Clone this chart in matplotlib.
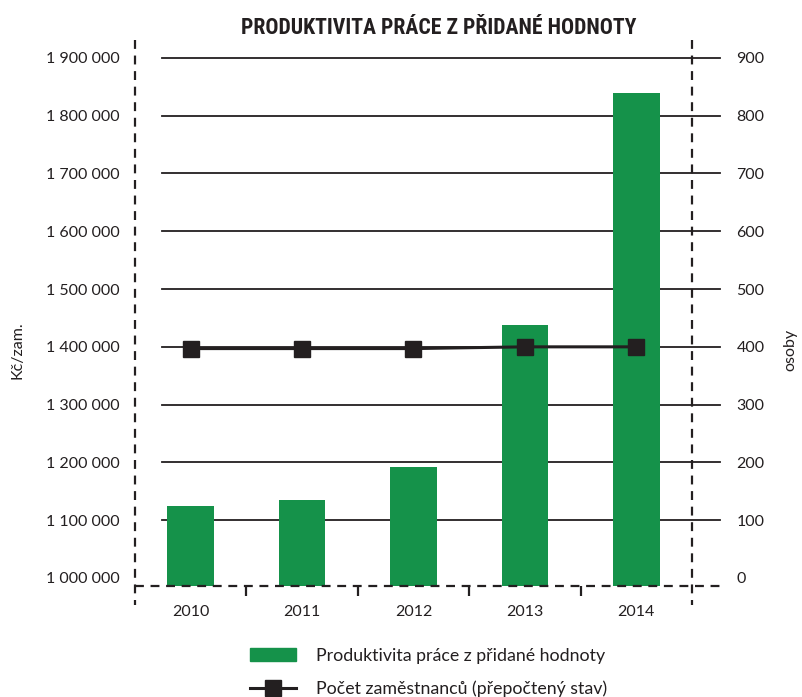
# Produktivita prace z pridane hodnoty - combo chart
import matplotlib.pyplot as plt
from matplotlib.lines import Line2D
from matplotlib.patches import Patch

plt.rcParams['font.family'] = ['Lato', 'DejaVu Sans']

years = ['2010', '2011', '2012', '2013', '2014']
produktivita = [1124500, 1135000, 1192000, 1438000, 1839000]
zamestnanci = [397, 397, 397, 400, 400]

left_ticks = [1000000, 1100000, 1200000, 1300000, 1400000,
              1500000, 1600000, 1700000, 1800000, 1900000]
right_ticks = [0, 100, 200, 300, 400, 500, 600, 700, 800, 900]

green = '#15924a'
dark = '#231f20'

fig = plt.figure(figsize=(8.03, 6.97), dpi=100)
ax = fig.add_axes([135/803, (697-585.5)/697, 557/803, 545.5/697])
ax2 = ax.twinx()

lo, hi = 987000, 1931000
ax.set_ylim(lo, hi)
ax2.set_ylim((lo - 1000000) / 1000, (hi - 1000000) / 1000)
ax.set_xlim(-0.5, 4.5)

x = range(len(years))
ax.bar(x, [v - lo for v in produktivita], bottom=lo, width=0.42, color=green, zorder=2)

# grid lines, drawn a little outside the axes
for t in left_ticks[1:]:
    ax.plot([0.048, 1.05], [t, t], transform=ax.get_yaxis_transform(),
            color=dark, lw=1.3, clip_on=False, zorder=1)

ax2.plot(x, zamestnanci, color=dark, lw=2.2, marker='s', ms=12, zorder=3)

# dashed frame
dash = dict(color=dark, lw=1.6, ls=(0, (4, 3)), clip_on=False, zorder=4)
ax.plot([0, 0], [1.0, -0.036], transform=ax.transAxes, **dash)
ax.plot([1, 1], [1.0, -0.036], transform=ax.transAxes, **dash)
ax.plot([0, 1.052], [0, 0], transform=ax.transAxes, **dash)

for a in (ax, ax2):
    for s in a.spines.values():
        s.set_visible(False)

ax.set_xticks(list(x))
ax.set_xticklabels(years, fontsize=11.5, color=dark)
ax.set_xticks([0.5, 1.5, 2.5, 3.5], minor=True)
ax.tick_params(axis='x', which='major', length=0, pad=14)
ax.tick_params(axis='x', which='minor', length=7, width=1.6, color=dark)

ax.set_yticks(left_ticks)
ax.set_yticklabels([f'{t:,}'.replace(',', ' ') for t in left_ticks], fontsize=11.5, color=dark)
ax.tick_params(axis='y', length=0, pad=11)

ax2.set_yticks(right_ticks)
ax2.set_yticklabels([str(t) for t in right_ticks], fontsize=11.5, color=dark)
ax2.tick_params(axis='y', length=0, pad=32)

fig.text(18/803, 1 - 350/697, 'Kč/zam.', rotation=90, ha='center', va='center',
         fontsize=11.5, color=dark)
fig.text(790/803, 1 - 350/697, 'osoby', rotation=90, ha='center', va='center',
         fontsize=11.5, color=dark)

fig.text(439/803, 1 - 28/697, 'PRODUKTIVITA PRÁCE Z PŘIDANÉ HODNOTY',
         ha='center', va='center', fontsize=15.7, fontweight='bold', color=dark,
         family=['Roboto Condensed', 'Roboto', 'DejaVu Sans'])

handles = [Patch(color=green),
           Line2D([], [], color=dark, lw=2.2, marker='s', ms=12)]
labels = ['Produktivita práce z přidané hodnoty', 'Počet zaměstnanců (přepočtený stav)']
fig.legend(handles, labels, loc='upper left', bbox_to_anchor=(241/803, 1 - 639/697),
           frameon=False, fontsize=12.8, handlelength=2.6, handleheight=0.7,
           handletextpad=1.1, labelspacing=0.95, borderpad=0, labelcolor=dark)

fig.savefig('out.png', dpi=100)
